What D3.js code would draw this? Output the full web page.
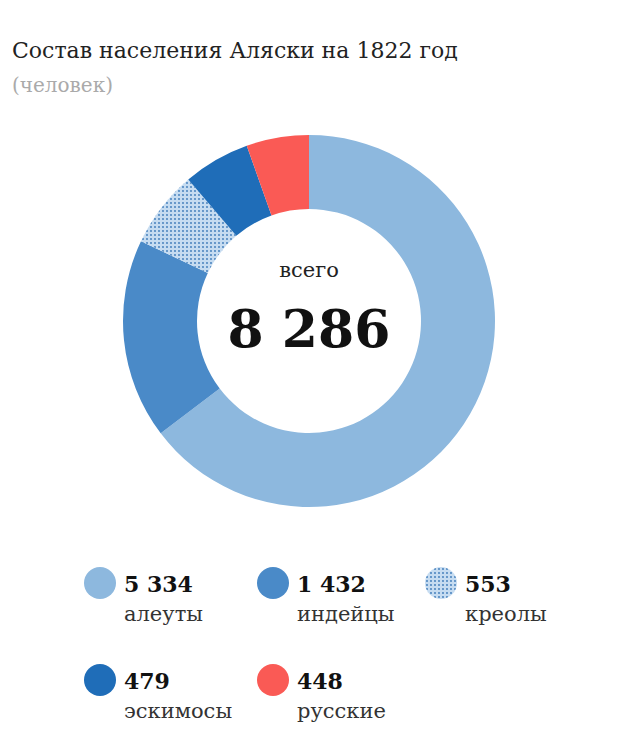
<!DOCTYPE html>
<html><head><meta charset="utf-8">
<script src="https://cdn.jsdelivr.net/npm/d3@7"></script>
<style>body{margin:0;background:#fff}text{font-family:"DejaVu Serif",serif}</style>
</head><body><svg id="c" width="620" height="742"></svg>
<script>
var names = ["алеуты", "индейцы", "креолы", "эскимосы", "русские"];
var values = [5334, 1432, 553, 479, 448];
var labels = ["5 334", "1 432", "553", "479", "448"];
var colors = ["#8db8de", "#4a8ac8", "url(#dots)", "#1f6db8", "#fa5a55"];

var svg = d3.select("#c");
var pat = svg.append("defs").append("pattern").attr("id", "dots")
    .attr("width", 4).attr("height", 4).attr("patternUnits", "userSpaceOnUse");
pat.append("rect").attr("width", 4).attr("height", 4).attr("fill", "#c6dcf1");
pat.append("circle").attr("cx", 2).attr("cy", 2).attr("r", 0.9).attr("fill", "#3a78b8");

svg.append("text").attr("x", 12).attr("y", 58).attr("font-size", 22).attr("fill", "#222")
    .text("Состав населения Аляски на 1822 год");
svg.append("text").attr("x", 12).attr("y", 92).attr("font-size", 20).attr("fill", "#aaa")
    .text("(человек)");

var g = svg.append("g").attr("transform", "translate(309,321)");
var pie = d3.pie().sort(null)(values);
var arc = d3.arc().innerRadius(112).outerRadius(186);
g.selectAll("path").data(pie).enter().append("path")
    .attr("d", arc).attr("fill", function (d, i) { return colors[i]; });

g.append("text").attr("text-anchor", "middle").attr("y", -44).attr("font-size", 21).attr("fill", "#222").text("всего");
g.append("text").attr("text-anchor", "middle").attr("y", 26).attr("font-size", 52)
    .attr("font-weight", "bold").attr("fill", "#111").text("8 286");

// legend
var lx = [100, 273, 441], ly = [583, 680];
var leg = svg.selectAll("g.leg").data(names).enter().append("g")
    .attr("transform", function (d, i) { return "translate(" + lx[i % 3] + "," + ly[Math.floor(i / 3)] + ")"; });
leg.append("circle").attr("r", 16).attr("fill", function (d, i) { return colors[i]; });
leg.append("text").attr("x", 24).attr("y", 9).attr("font-size", 22).attr("font-weight", "bold")
    .attr("fill", "#111").text(function (d, i) { return labels[i]; });
leg.append("text").attr("x", 24).attr("y", 38).attr("font-size", 21).attr("fill", "#333")
    .text(function (d) { return d; });
</script></body></html>
